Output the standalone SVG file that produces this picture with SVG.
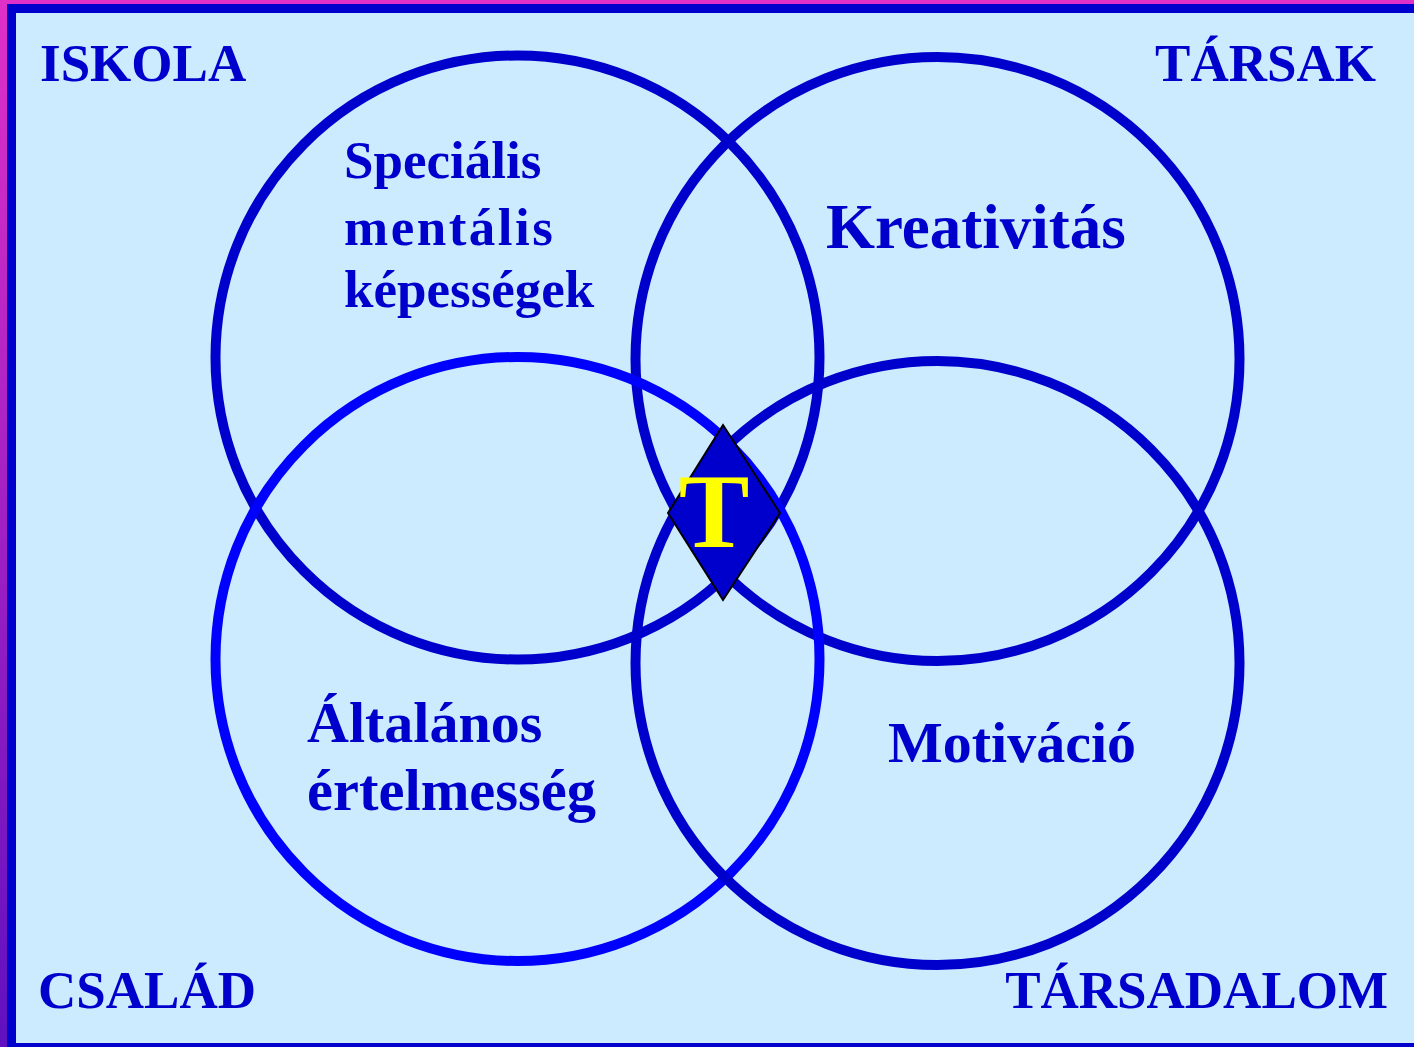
<svg xmlns="http://www.w3.org/2000/svg" width="1414" height="1047" viewBox="0 0 1414 1047">
  <defs>
    <linearGradient id="frame" x1="0" y1="0" x2="0" y2="1">
      <stop offset="0" stop-color="#E030C8"/>
      <stop offset="1" stop-color="#6010C0"/>
    </linearGradient>
    <style>
      .lbl { font-family: "Liberation Serif", "Times New Roman", serif; font-weight: bold; fill: #0000CC; }
      .ring { fill: none; stroke: #0000CC; stroke-width: 10; }
      .ring2 { fill: none; stroke: #0000FF; stroke-width: 10; }
    </style>
  </defs>
  <rect x="0" y="0" width="1414" height="1047" fill="url(#frame)"/>
  <rect x="7" y="4" width="1407" height="1043" fill="#0000CC"/>
  <rect x="16" y="13" width="1398" height="1030" fill="#CCEBFF"/>

  <g id="corner-labels">
    <text class="lbl" x="40" y="81" font-size="53">ISKOLA</text>
    <text class="lbl" x="1376" y="81" font-size="53" text-anchor="end">TÁRSAK</text>
    <text class="lbl" x="38" y="1008" font-size="53">CSALÁD</text>
    <text class="lbl" x="1388" y="1008" font-size="53" text-anchor="end">TÁRSADALOM</text>
  </g>

  <g id="circle-special">
    <circle class="ring" cx="517.5" cy="357.5" r="302"/>
  </g>
  <g id="circle-creativity">
    <circle class="ring" cx="937.5" cy="359" r="302"/>
  </g>
  <g id="circle-general">
    <circle class="ring2" cx="517.5" cy="659" r="302"/>
  </g>
  <g id="circle-motivation">
    <circle class="ring" cx="937.5" cy="663" r="302"/>
  </g>

  <g id="label-special">
    <text class="lbl" x="344" y="178" font-size="53">Speciális</text>
    <text class="lbl" x="344" y="245" font-size="53" textLength="209" lengthAdjust="spacing">mentális</text>
    <text class="lbl" x="344" y="307" font-size="53">képességek</text>
  </g>
  <g id="label-creativity">
    <text class="lbl" x="826" y="248" font-size="63">Kreativitás</text>
  </g>
  <g id="label-general">
    <text class="lbl" x="307" y="742" font-size="58">Általános</text>
    <text class="lbl" x="307" y="810" font-size="58.5">értelmesség</text>
  </g>
  <g id="label-motivation">
    <text class="lbl" x="888" y="762" font-size="58">Motiváció</text>
  </g>

  <g id="center-T">
    <polygon points="723,425 780,513 723,600 668,513" fill="#0000CC" stroke="#000000" stroke-width="2"/>
    <text x="714" y="547" font-size="106" text-anchor="middle" font-family="Liberation Serif, Times New Roman, serif" font-weight="bold" fill="#FFFF00">T</text>
  </g>
</svg>
